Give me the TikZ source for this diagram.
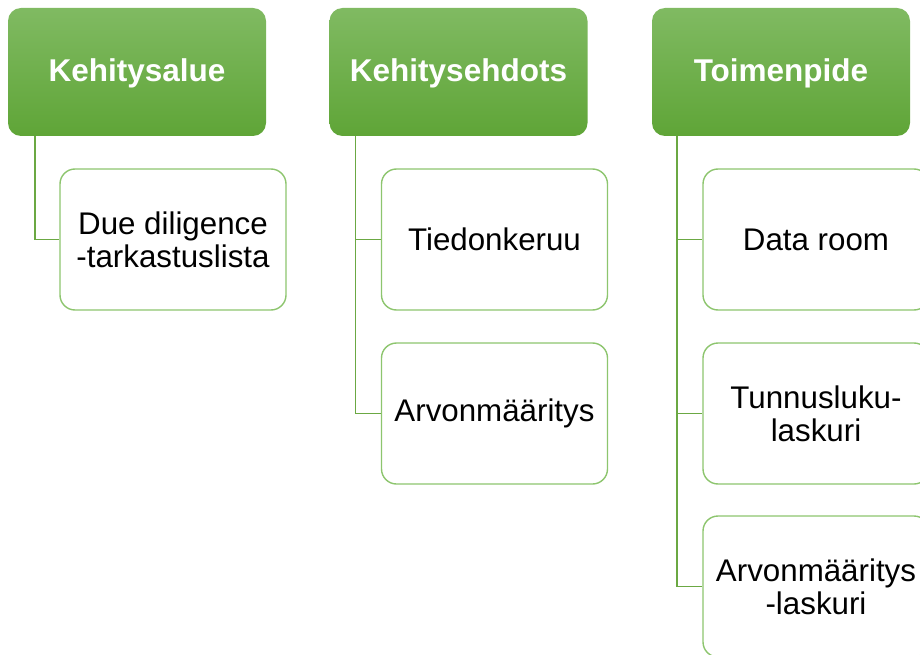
\documentclass[tikz,border=0pt]{standalone}
\usepackage{fontspec}
\setmainfont{Liberation Sans}
\definecolor{gtop}{HTML}{80BA62}
\definecolor{gbot}{HTML}{5FA537}
\definecolor{childline}{HTML}{8DC56E}
\definecolor{connline}{HTML}{6BA843}
\begin{document}
\begin{tikzpicture}[x=1pt,y=-1pt,
  head/.style={rounded corners=13pt, minimum width=258pt, minimum height=128pt,
    top color=gtop, bottom color=gbot, draw=none, text=white,
    font=\fontsize{31.5}{33}\selectfont\bfseries, inner sep=0pt},
  child/.style={rounded corners=15pt, minimum width=226pt, minimum height=141pt,
    draw=childline, line width=1.4pt, fill=white, align=center,
    font=\fontsize{31.3}{33}\selectfont, inner sep=0pt},
  conn/.style={draw=connline, line width=1.4pt}]
\useasboundingbox (0,0) rectangle (920,655);
\clip (0,0) rectangle (920,655);
\node[head] (h1) at (137,72) {};
\node[head] (h2) at (458.5,72) {};
\node[head] (h3) at (781,72) {};
\node[text=white, font=\fontsize{31.5}{33}\selectfont\bfseries] (t1) at (h1.center) [yshift=-1.5pt] {Kehitysalue};
\node[text=white, font=\fontsize{31.5}{33}\selectfont\bfseries] (t2) at (h2.center) [yshift=-1.5pt] {Kehitysehdots};
\node[text=white, font=\fontsize{31.5}{33}\selectfont\bfseries] (t3) at (h3.center) [yshift=-1.5pt] {Toimenpide};
\node[child] (c1) at (173,239.5) {Due diligence\\-tarkastuslista};
\node[child] (c21) at (494.5,239.5) {Tiedonkeruu};
\node[child] (c22) at (494.5,413.5) {Arvonmääritys};
\node[child] (c31) at (816,239.5) {Data room};
\node[child] (c32) at (816,413.5) {Tunnusluku-\\laskuri};
\node[child] (c33) at (816,586.5) {Arvonmääritys\\-laskuri};
\draw[conn] ([xshift=27pt]h1.south west) |- (c1.west);
\draw[conn] ([xshift=26pt]h2.south west) |- (c22.west);
\draw[conn] ([xshift=26pt]h2.south west) |- (c21.west);
\draw[conn] ([xshift=25pt]h3.south west) |- (c33.west);
\draw[conn] ([xshift=25pt]h3.south west) |- (c32.west);
\draw[conn] ([xshift=25pt]h3.south west) |- (c31.west);
\end{tikzpicture}
\end{document}
